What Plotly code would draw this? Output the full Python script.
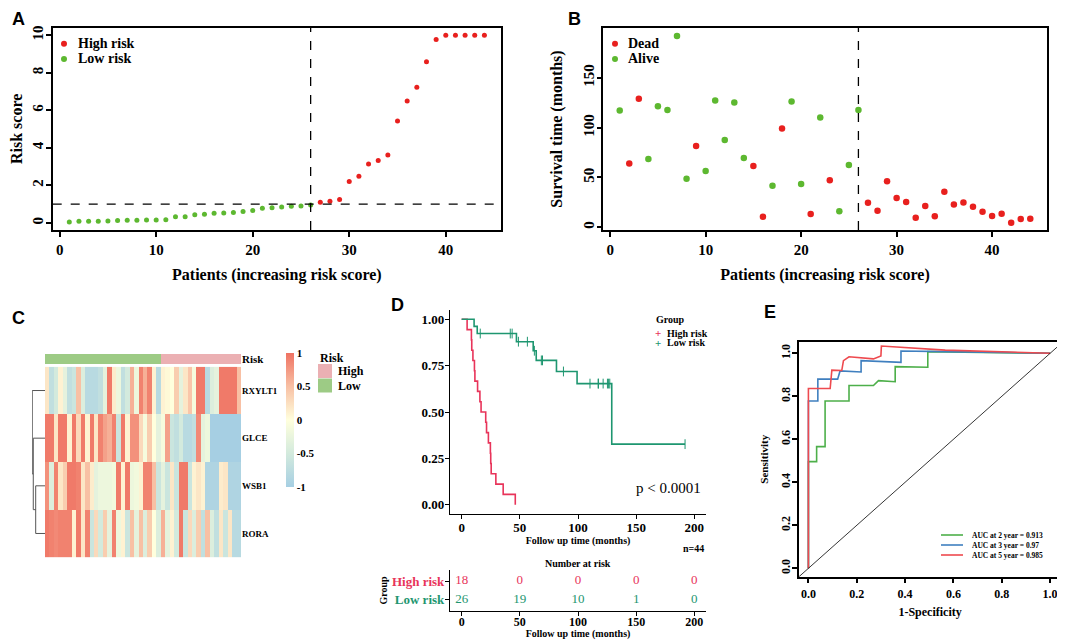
import plotly.graph_objects as go

# the page body keeps its default 8px margin, so the figure is drawn 8px in
OFF = 8
W, H = 1065 - OFF, 640 - OFF
SERIF = "Liberation Serif"
SANS = "Liberation Sans"

# ---------------- data ----------------
patients = list(range(1, 45))
risk_score = [0.04, 0.09, 0.09, 0.09, 0.10, 0.12, 0.14, 0.14, 0.15, 0.15, 0.16, 0.32, 0.32,
              0.43, 0.46, 0.51, 0.53, 0.55, 0.60, 0.66, 0.78, 0.80, 0.85, 0.89, 0.90, 0.95,
              1.10, 1.15, 1.24, 2.20, 2.48, 3.14, 3.32, 3.62, 5.43, 6.49, 7.23, 8.58, 9.77,
              10.0, 10.0, 10.0, 10.0, 10.0]
risk_cutoff = 1.0
cutoff_patient = 26

surv_time = [117.3, 64.1, 129.0, 68.5, 121.6, 117.6, 192.0, 48.8, 81.5, 56.5, 127.3, 87.5, 125.3,
             69.5, 61.5, 10.7, 41.8, 99.2, 126.3, 43.4, 13.4, 110.3, 47.1, 16.0, 62.5, 117.6,
             24.7, 16.7, 46.1, 29.4, 25.4, 9.7, 21.4, 11.0, 35.7, 23.0, 25.0, 20.7, 15.7, 11.4,
             13.7, 4.7, 8.4, 8.7]
# 1 = dead, 0 = alive
surv_status = [0, 1, 1, 0, 0, 0, 0, 0, 1, 0, 0, 0, 0, 0, 1, 1, 0, 1, 0, 0, 1, 0, 1, 0, 0, 0,
               1, 1, 1, 1, 1, 1, 1, 1, 1, 1, 1, 1, 1, 1, 1, 1, 1, 1]

genes = ["RXYLT1", "GLCE", "WSB1", "RORA"]
expr_rxylt1 = [0.2, -0.7, -0.5, 0.1, -0.3, -0.7, -0.6, 0.5, -0.4, -0.8, -0.8, -0.8, -0.7, -0.3,
               0.95, 0.15, -0.2, -0.7, -0.5, 0.6, -0.2, 0.9, 0.6, 0.9, 0.1, -0.8,
               0.1, 0.05, 0.0, 0.4, -0.3, 0.2, 0.45, -0.1, 0.95, 0.95, -0.8, -0.4, -0.3,
               0.95, 0.95, 0.95, 0.95, 0.5]
expr_glce = [0.95, 0.95, 0.2, 0.95, 0.95, 0.1, 0.95, 0.3, 0.95, 0.1, 0.95, 0.2, 0.9, 0.7,
             0.6, 0.9, -0.6, 0.95, 0.1, 0.8, 0.8, 0.3, -0.1, 0.4, 0.0, -0.3,
             -0.1, 0.7, -0.6, -0.7, -0.5, -0.8, -0.8, -0.7, 0.85, -0.3, -0.2,
             -1.0, -1.0, -1.0, -1.0, -1.0, -1.0, -1.0]
expr_wsb1 = [0.8, -0.4, 0.9, 0.2, 0.4, 0.95, 0.95, 0.9, 0.2, 0.5, 0.15, -0.3, -0.2, -0.2,
             -0.2, -0.15, 0.95, 0.1, 0.95, -0.2, -0.15, 0.1, 0.9, 0.9, 0.5, -0.6,
             -0.3, -0.6, 0.2, -0.6, 0.95, 0.95, -0.6, 0.1, 0.2, 0.1, -0.9, -0.9, -0.9,
             0.15, 0.2, -0.9, -0.9, -0.9]
expr_rora = [0.95, 0.9, 0.85, 0.9, 0.9, 0.9, 0.1, 0.95, 0.2, 0.9, -0.6, 0.3, -0.5, 0.4,
             -0.3, 0.9, -0.2, 0.1, -0.6, 0.5, -0.3, 0.5, -0.4, 0.4, 0.0, -0.4,
             0.6, -0.3, 0.1, -0.5, 0.95, -0.6, 0.3, -0.4, 0.4, -0.7, 0.5, -0.4, -0.7,
             0.2, -0.6, 0.2, -0.8, -0.8]
# row clustering (hclust style: negative = leaf index, positive = earlier merge)
dendro_merge = [(-3, -4), (-2, 1), (-1, 2)]
dendro_height = [0.73, 0.92, 1.0]

risk_times = [0, 50, 100, 150, 200]

roc2_fpr = [0, 0, 0.034, 0.034, 0.069, 0.069, 0.168, 0.168, 0.269, 0.29, 0.359, 0.359, 0.494, 0.494, 1.0]
roc2_tpr = [0, 0.496, 0.496, 0.566, 0.566, 0.778, 0.778, 0.85, 0.85, 0.873, 0.868, 0.938, 0.935, 1.008, 1.0]
roc3_fpr = [0, 0, 0.039, 0.039, 0.121, 0.131, 0.218, 0.218, 0.383, 0.383, 0.566, 1.0]
roc3_tpr = [0, 0.778, 0.778, 0.88, 0.88, 0.918, 0.913, 0.966, 0.958, 1.011, 1.008, 1.0]
roc5_fpr = [0, 0, 0.09, 0.097, 0.138, 0.145, 0.168, 0.269, 0.3, 0.302, 0.566, 1.0]
roc5_tpr = [0, 0.836, 0.836, 0.922, 0.92, 0.966, 0.984, 0.974, 0.988, 1.034, 1.015, 1.0]
auc_labels = ["AUC at 2 year = 0.913", "AUC at 3 year = 0.97", "AUC at 5 year = 0.985"]

# ---------------- colours ----------------
RED_DOT = "#E8201E"
GREEN_DOT = "#5DB830"
KM_RED = "#E8345A"
KM_GREEN = "#1E9670"
HIGH_ANN = "#EBB0B3"
LOW_ANN = "#9DCB85"
ROC_COLORS = ["#4DAF4A", "#3F7FBF", "#EE4A4F"]


def px(x):
    return (x - OFF) / W


def py(y):
    return 1 - (y - OFF) / H


def dx(a, b):
    return [px(a), px(b)]


def dy(top, bottom):
    return [py(bottom), py(top)]


def bold(size, color="black", family=SERIF):
    return dict(family=family, size=size, weight="bold", color=color)


def note(fig, text, x, y, font, xanchor="center"):
    fig.add_annotation(text=text, x=px(x), y=py(y), xref="paper", yref="paper", showarrow=False,
                       xanchor=xanchor, yanchor="middle", font=font)


high = [s > risk_cutoff for s in risk_score]

fig = go.Figure()

# ---------------- A: risk score ----------------
for flag, name, col in [(True, "High risk", RED_DOT), (False, "Low risk", GREEN_DOT)]:
    xs = [p for p, h in zip(patients, high) if h == flag]
    ys = [s for s, h in zip(risk_score, high) if h == flag]
    fig.add_trace(go.Scatter(x=xs, y=ys, mode="markers", name=name, xaxis="x", yaxis="y",
                             marker=dict(color=col, size=5), showlegend=False))
fig.add_shape(type="line", xref="x domain", yref="y", x0=0, x1=1, y0=risk_cutoff, y1=risk_cutoff,
              line=dict(color="black", dash="dash", width=1.3))

# ---------------- B: survival status ----------------
for st, name, col in [(1, "Dead", RED_DOT), (0, "Alive", GREEN_DOT)]:
    xs = [p for p, s in zip(patients, surv_status) if s == st]
    ys = [t for t, s in zip(surv_time, surv_status) if s == st]
    fig.add_trace(go.Scatter(x=xs, y=ys, mode="markers", name=name, xaxis="x2", yaxis="y2",
                             marker=dict(color=col, size=6.5), showlegend=False))

for xr, yr in [("x", "y domain"), ("x2", "y2 domain")]:
    fig.add_shape(type="line", xref=xr, yref=yr, x0=cutoff_patient, x1=cutoff_patient, y0=0, y1=1,
                  line=dict(color="black", dash="dash", width=1.3))

# legend keys for A and B
for (kx, tx), labels in [((64, 76), [("High risk", RED_DOT), ("Low risk", GREEN_DOT)]),
                         ((615, 626), [("Dead", RED_DOT), ("Alive", GREEN_DOT)])]:
    for (lab, col), ky in zip(labels, [43.7, 59.0]):
        fig.add_shape(type="circle", xref="paper", yref="paper", x0=px(kx - 3), x1=px(kx + 3),
                      y0=py(ky + 3), y1=py(ky - 3), fillcolor=col, line=dict(width=0))
        note(fig, lab, tx, ky, bold(14), xanchor="left")

# ---------------- C: heatmap ----------------
fig.add_trace(go.Heatmap(
    z=[expr_rxylt1, expr_glce, expr_wsb1, expr_rora], x=patients, y=genes,
    xaxis="x3", yaxis="y3", zmin=-1, zmax=1,
    colorscale=[[0, "#A6CFE3"], [0.25, "#D3EADD"], [0.5, "#FFFFDD"], [0.75, "#F8C0A4"], [1, "#EF7262"]],
    colorbar=dict(x=px(286), xanchor="left", y=py(353), yanchor="top",
                  len=134, lenmode="pixels", thickness=8, outlinewidth=0, xpad=0, ypad=0,
                  tickvals=[-1, -0.5, 0, 0.5, 1], ticktext=["-1", "-0.5", "0", "0.5", "1"],
                  ticks="", tickfont=bold(11)),
))
fig.add_trace(go.Heatmap(
    z=[[1 if h else 0 for h in high]], x=patients, y=["Risk"], xaxis="x4", yaxis="y4",
    zmin=0, zmax=1, showscale=False,
    colorscale=[[0, LOW_ANN], [0.5, LOW_ANN], [0.5, HIGH_ANN], [1, HIGH_ANN]],
))
note(fig, "Risk", 318, 358, bold(12), xanchor="left")
for lab, col, top in [("High", HIGH_ANN, 364), ("Low", LOW_ANN, 378.5)]:
    fig.add_shape(type="rect", xref="paper", yref="paper", x0=px(318), x1=px(332),
                  y0=py(top + 14), y1=py(top), fillcolor=col, line=dict(width=0))
    note(fig, lab, 336, top + 7, bold(12), xanchor="left")

# dendrogram built from merge table
centers = {}
seg_x, seg_y = [], []
for i, (a, b) in enumerate(dendro_merge):
    h = dendro_height[i]
    pos, hts = [], []
    for m in (a, b):
        if m < 0:
            pos.append(-m - 1)
            hts.append(0)
        else:
            pos.append(centers[m][0])
            hts.append(centers[m][1])
    seg_x += [hts[0], h, h, hts[1], None]
    seg_y += [pos[0], pos[0], pos[1], pos[1], None]
    centers[i + 1] = ((pos[0] + pos[1]) / 2, h)
fig.add_trace(go.Scatter(x=seg_x, y=seg_y, mode="lines", xaxis="x5", yaxis="y5",
                         line=dict(color="#555555", width=1), showlegend=False))


# ---------------- D: Kaplan-Meier ----------------
def km_curve(times, events):
    pairs = sorted(zip(times, events))
    n = len(pairs)
    s = 1.0
    xs, ys = [0], [1.0]
    cx, cy = [], []
    i = 0
    while i < len(pairs):
        t = pairs[i][0]
        d = c = 0
        while i < len(pairs) and pairs[i][0] == t:
            if pairs[i][1] == 1:
                d += 1
            else:
                c += 1
            i += 1
        if d:
            s *= 1 - d / n
            xs.append(t)
            ys.append(s)
        if c:
            cx.append(t)
            cy.append(s)
        n -= d + c
    if pairs[-1][0] > xs[-1]:
        xs.append(pairs[-1][0])
        ys.append(s)
    return xs, ys, cx, cy


groups = [("High risk", True, KM_RED), ("Low risk", False, KM_GREEN)]
tt10 = bold(10)
note(fig, "Group", 654, 319, tt10, xanchor="left")
for (name, flag, col), ky in zip(groups, [333, 342.5]):
    t = [tt for tt, h in zip(surv_time, high) if h == flag]
    e = [ee for ee, h in zip(surv_status, high) if h == flag]
    xs, ys, cx, cy = km_curve(t, e)
    fig.add_trace(go.Scatter(x=xs, y=ys, mode="lines", line=dict(color=col, width=1.6, shape="hv"),
                             xaxis="x6", yaxis="y6", showlegend=False))
    fig.add_trace(go.Scatter(x=cx, y=cy, mode="markers", xaxis="x6", yaxis="y6", showlegend=False,
                             marker=dict(symbol="line-ns", size=7, line=dict(color=col, width=1))))
    note(fig, "+", 658, ky, bold(11, color=col))
    note(fig, name, 665, ky, tt10, xanchor="left")
    # number at risk table
    nar = [sum(1 for tt in t if tt >= rt) for rt in risk_times]
    fig.add_trace(go.Scatter(x=risk_times, y=[1 if flag else 0] * len(risk_times), mode="text",
                             text=[str(v) for v in nar], xaxis="x7", yaxis="y7", showlegend=False,
                             textfont=dict(family=SERIF, size=13, color=col)))

# ---------------- E: ROC ----------------
for i, (fpr, tpr, lab, col) in enumerate(zip([roc2_fpr, roc3_fpr, roc5_fpr], [roc2_tpr, roc3_tpr, roc5_tpr],
                                             auc_labels, ROC_COLORS)):
    fig.add_trace(go.Scatter(x=fpr, y=tpr, mode="lines", name=lab, xaxis="x8", yaxis="y8",
                             line=dict(color=col, width=1.6), showlegend=False))
    ky = 535 + 10 * i
    fig.add_shape(type="line", xref="paper", yref="paper", x0=px(941), x1=px(963), y0=py(ky), y1=py(ky),
                  line=dict(color=col, width=1.6))
    note(fig, lab, 970, ky, bold(7.5), xanchor="left")
fig.add_trace(go.Scatter(x=[-0.1, 1.1], y=[-0.1, 1.1], mode="lines", xaxis="x8", yaxis="y8",
                         line=dict(color="black", width=0.8), showlegend=False))

# ---------------- layout ----------------
tf15 = bold(15)
tt16 = bold(16)
tf13 = bold(13)
tf12 = bold(12)
box = dict(showline=True, mirror=True, linecolor="black", linewidth=1.5, ticks="outside",
           ticklen=5, tickwidth=1.5, tickcolor="black", showgrid=False, zeroline=False)
gg = dict(showline=True, mirror=False, linecolor="black", linewidth=1.2, ticks="outside",
          ticklen=4, tickwidth=1.2, tickcolor="black", showgrid=False, zeroline=False)

fig.update_layout(
    width=W, height=H, margin=dict(l=0, r=0, t=0, b=0, autoexpand=False),
    paper_bgcolor="white", plot_bgcolor="white", showlegend=False,
    font=dict(family=SERIF, color="black"),
    xaxis=dict(domain=dx(52.7, 501), range=[-0.72, 45.72], tickvals=[0, 10, 20, 30, 40],
               tickfont=tf15, title=dict(text="Patients (increasing risk score)", font=tt16, standoff=12),
               anchor="y", **box),
    yaxis=dict(domain=dy(27.7, 230), range=[-0.38, 10.4], tickvals=[0, 2, 4, 6, 8, 10],
               tickangle=-90, tickfont=tf15, ticklabelstandoff=-3,
               title=dict(text="Risk score", font=tt16, standoff=14), anchor="x", **box),
    xaxis2=dict(domain=dx(603.3, 1046.7), range=[-0.72, 45.72], tickvals=[0, 10, 20, 30, 40],
                tickfont=tf15, title=dict(text="Patients (increasing risk score)", font=tt16, standoff=12),
                anchor="y2", **box),
    yaxis2=dict(domain=dy(28, 230), range=[-2.7, 200], tickvals=[0, 50, 100, 150],
                tickangle=-90, tickfont=tf15, ticklabelstandoff=-3,
                title=dict(text="Survival time (months)", font=tt16, standoff=14), anchor="x2", **box),
    xaxis3=dict(domain=dx(45, 241), range=[0.5, 44.5], visible=False, anchor="y3"),
    yaxis3=dict(domain=dy(366.7, 557.3), autorange="reversed", side="right", anchor="x3",
                showline=False, showgrid=False, zeroline=False, ticks="", tickfont=bold(9)),
    xaxis4=dict(domain=dx(45, 241), range=[0.5, 44.5], visible=False, anchor="y4"),
    yaxis4=dict(domain=dy(354, 364), side="right", anchor="x4", showline=False, showgrid=False,
                zeroline=False, ticks="", tickfont=bold(11)),
    xaxis5=dict(domain=dx(32, 45), range=[1.02, 0], visible=False, anchor="y5"),
    yaxis5=dict(domain=dy(366.7, 557.3), range=[3.5, -0.5], visible=False, anchor="x5"),
    xaxis6=dict(domain=dx(450, 706), range=[-10, 210], tickvals=risk_times, tickfont=tf13,
                ticklabelstandoff=-3,
                title=dict(text="Follow up time (months)", font=tt10, standoff=1), anchor="y6", **gg),
    yaxis6=dict(domain=dy(310, 514), range=[-0.05, 1.05], tickvals=[0, 0.25, 0.5, 0.75, 1],
                ticktext=["0.00", "0.25", "0.50", "0.75", "1.00"], tickfont=tf13,
                ticklabelstandoff=-2, anchor="x6", **gg),
    xaxis7=dict(domain=dx(450, 706), range=[-10, 210], tickvals=risk_times, tickfont=tf12,
                ticklabelstandoff=-5,
                title=dict(text="Follow up time (months)", font=tt10, standoff=2), anchor="y7", **gg),
    yaxis7=dict(domain=dy(570, 611), range=[-0.6, 1.6], tickvals=[0, 1],
                ticktext=[f"<span style='color:{KM_GREEN}'>Low risk</span>",
                          f"<span style='color:{KM_RED}'>High risk</span>"],
                tickfont=tf13, ticklabelstandoff=-2,
                title=dict(text="Group", font=tt10, standoff=2), anchor="x7", **gg),
    xaxis8=dict(domain=dx(798.5, 1061.7), range=[-0.041, 1.048], tickvals=[0, 0.2, 0.4, 0.6, 0.8, 1],
                ticktext=["0.0", "0.2", "0.4", "0.6", "0.8", "1.0"], tickfont=tf12,
                title=dict(text="1-Specificity", font=tf12, standoff=8), anchor="y8", **box),
    yaxis8=dict(domain=dy(341.7, 576.7), range=[-0.039, 1.054], tickvals=[0, 0.2, 0.4, 0.6, 0.8, 1],
                ticktext=["0.0", "0.2", "0.4", "0.6", "0.8", "1.0"], tickangle=-90, tickfont=tf12,
                ticklabelstandoff=-3,
                title=dict(text="Sensitivity", font=bold(11), standoff=8), anchor="x8", **box),
)

# panel letters and free text
for letter, x, y in [("A", 18, 19), ("B", 574, 19), ("C", 18, 318), ("D", 397, 305), ("E", 770, 312)]:
    note(fig, letter, x, y, bold(18, family=SANS))
note(fig, "p < 0.0001", 668, 488, dict(family=SERIF, size=15, color="black"))
note(fig, "n=44", 706, 548, tt10, xanchor="right")
note(fig, "Number at risk", 578, 563, tt10)

fig.write_html("out.html")
